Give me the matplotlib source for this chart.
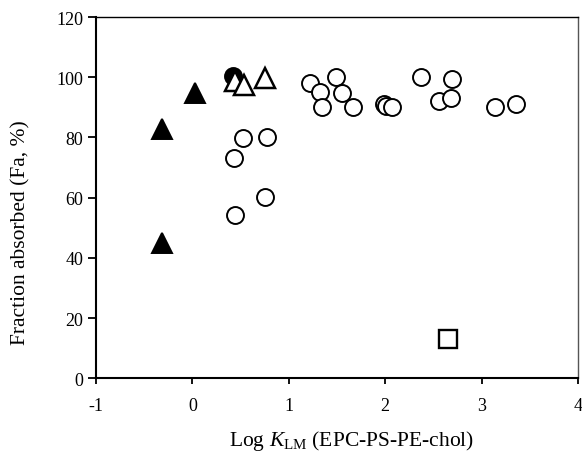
import matplotlib
matplotlib.use("Agg")
import matplotlib.pyplot as plt

# Open circles
circ_x = [0.53, 0.77, 0.43, 0.756, 0.44, 1.216, 1.319, 1.347, 1.492, 1.551,
          1.665, 1.99, 2.01, 2.07, 2.373, 2.697, 2.56, 2.687, 3.14, 3.354]
circ_y = [79.8, 80.0, 73.1, 60.2, 54.3, 98.2, 95.1, 90.0, 100.1, 94.8,
          90.1, 91.1, 90.4, 90.1, 100.0, 99.3, 92.1, 93.1, 90.2, 91.2]

# Filled circle
fcirc_x = [0.42]
fcirc_y = [100.5]

# Filled triangles
ftri_x = [-0.311, 0.028, -0.314]
ftri_y = [82.8, 94.8, 45.0]

# Open triangles
otri_x = [0.446, 0.54, 0.749]
otri_y = [98.6, 97.5, 99.7]

# Open square
sq_x = [2.657]
sq_y = [13.0]

x_ticks = [-1, 0, 1, 2, 3, 4]
y_ticks = [0, 20, 40, 60, 80, 100, 120]

plt.rcParams["font.family"] = ["Liberation Serif", "DejaVu Serif"]
plt.rcParams["mathtext.fontset"] = "custom"
plt.rcParams["mathtext.rm"] = "Liberation Serif"
plt.rcParams["mathtext.it"] = "Liberation Serif:italic"
plt.rcParams["axes.unicode_minus"] = False

fig = plt.figure(figsize=(5.82, 4.52), dpi=100)
ax = fig.add_axes([0.165, 0.161, 0.828, 0.799])

mew = 1.4
ax.plot(circ_x, circ_y, "o", ms=12.2, mfc="white", mec="black", mew=mew, ls="none")
ax.plot(fcirc_x, fcirc_y, "o", ms=12.2, mfc="black", mec="black", mew=mew, ls="none")
ax.plot(otri_x, otri_y, "^", ms=14.5, mfc="white", mec="black", mew=mew + 0.4, ls="none")
ax.plot(ftri_x, ftri_y, "^", ms=14.8, mfc="black", mec="black", mew=mew, ls="none")
ax.plot(sq_x, sq_y, "s", ms=12.6, mfc="white", mec="black", mew=mew + 0.3, ls="none")

ax.set_xlim(-1, 4)
ax.set_ylim(0, 120)
ax.set_xticks(x_ticks)
ax.set_yticks(y_ticks)
ax.set_xticklabels([str(t) for t in x_ticks])
ax.tick_params(axis="both", labelsize=13, direction="out", width=1.3, colors="black")
ax.tick_params(axis="y", length=6, pad=3)
ax.tick_params(axis="x", length=4.5, pad=9)

for side in ("left", "bottom"):
    ax.spines[side].set_linewidth(1.5)
ax.spines["top"].set_linewidth(1.0)
ax.spines["right"].set_linewidth(1.0)
ax.spines["right"].set_color("#555555")

ax.set_xlabel(r"Log $K_{\mathrm{LM}}$ (EPC-PS-PE-chol)", fontsize=15.5)
ax.set_ylabel("Fraction absorbed (Fa, %)", fontsize=15.5)
ax.xaxis.set_label_coords(0.531, -0.138)
ax.yaxis.set_label_coords(-0.135, 0.407)

fig.savefig("out.png", dpi=100)
